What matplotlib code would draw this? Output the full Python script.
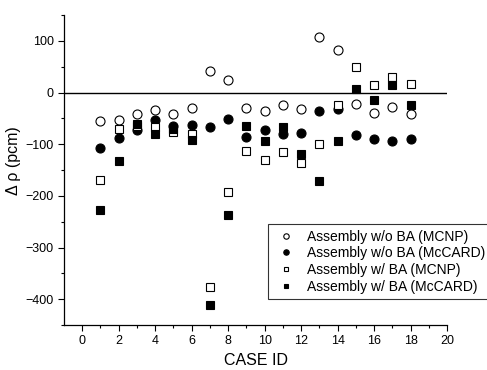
import matplotlib
matplotlib.use('Agg')
import matplotlib.pyplot as plt
import numpy as np

plt.rcParams['font.family'] = ['Liberation Sans', 'DejaVu Sans']

case_id = np.arange(1, 19)
wo_ba_mcnp = [-55, -53, -42, -34, -42, -30, 42, 25, -30, -35, -24, -31, 108, 83, -22, -39, -29, -42]
wo_ba_mccard = [-107, -89, -73, -53, -65, -63, -67, -52, -86, -72, -81, -78, -35, -31, -83, -90, -94, -90]
w_ba_mcnp = [-169, -70, -64, -67, -76, -81, -376, -192, -113, -130, -116, -137, -99, -24, 49, 15, 30, 16]
w_ba_mccard = [-228, -132, -60, -81, -70, -91, -412, -238, -64, -93, -66, -119, -171, -93, 7, -15, 14, -25]

labels = ['Assembly w/o BA (MCNP)', 'Assembly w/o BA (McCARD)',
          'Assembly w/ BA (MCNP)', 'Assembly w/ BA (McCARD)']

fig = plt.figure(figsize=(4.87, 3.70), dpi=100)
ax = fig.add_axes([64/487, 45/370, 383/487, 310/370])

ax.axhline(0, color='black', linewidth=1.0, zorder=1)

ax.plot(case_id, wo_ba_mcnp, 'o', mfc='white', mec='black', mew=0.8, ms=6.5, label=labels[0], zorder=3)
ax.plot(case_id, wo_ba_mccard, 'o', mfc='black', mec='black', mew=0.8, ms=6.5, label=labels[1], zorder=3)
ax.plot(case_id, w_ba_mcnp, 's', mfc='white', mec='black', mew=0.8, ms=5.5, label=labels[2], zorder=3)
ax.plot(case_id, w_ba_mccard, 's', mfc='black', mec='black', mew=0.8, ms=5.5, label=labels[3], zorder=3)

ax.set_xlim(-1, 20)
ax.set_ylim(-450, 150)
ax.set_xticks(np.arange(0, 21, 2))
ax.set_xticks(np.arange(1, 20, 2), minor=True)
ax.set_yticks(np.arange(-400, 101, 100))
ax.set_yticks(np.arange(-450, 151, 50), minor=True)

for side in ['top', 'right']:
    ax.spines[side].set_visible(False)
ax.spines['left'].set_linewidth(0.9)
ax.spines['bottom'].set_linewidth(0.9)
ax.tick_params(which='major', direction='out', length=4, width=0.8, labelsize=9)
ax.tick_params(which='minor', direction='out', length=2.5, width=0.8)

ax.set_xlabel('CASE ID', fontsize=11.5, labelpad=4)
ax.set_ylabel('Δ ρ (pcm)', fontsize=11.5)
ax.yaxis.set_label_coords(-0.112, 0.53)

leg = ax.legend(loc='upper left', bbox_to_anchor=(268/487, 1 - 224/370),
                bbox_transform=fig.transFigure, fontsize=10, markerscale=0.6,
                frameon=True, fancybox=False, borderaxespad=0,
                handletextpad=0.6, labelspacing=0.2, borderpad=0.4, handlelength=1.8)
leg.get_frame().set_edgecolor('black')
leg.get_frame().set_linewidth(0.8)

fig.savefig('out.png', dpi=100)
